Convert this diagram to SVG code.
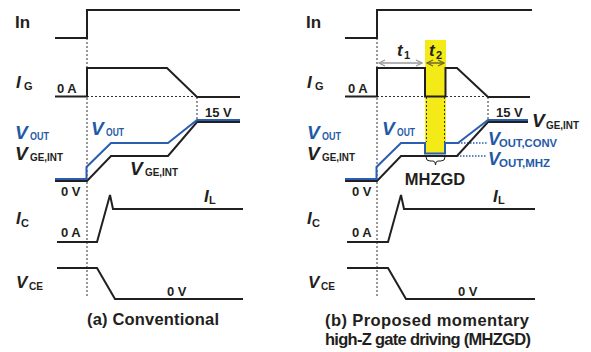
<svg xmlns="http://www.w3.org/2000/svg" width="591" height="352" viewBox="0 0 591 352">
<style>
text{font-family:"Liberation Sans",Arial,sans-serif;font-weight:bold;fill:#231f20}
.m{font-size:17px}
.v{font-size:19px;font-style:italic}
.it{font-size:17px;font-style:italic}
.s{font-size:11px}
.n{font-size:13px}
.cap{font-size:16.5px}
.b{fill:#1f5aa8}
.sig{fill:none;stroke:#231f20;stroke-width:2;stroke-linejoin:miter}
.blu{fill:none;stroke:#2a5eae;stroke-width:2}
.dash{fill:none;stroke:#333;stroke-width:1;stroke-dasharray:2,2}
.bdot{fill:none;stroke:#2a5eae;stroke-width:1.5;stroke-dasharray:1.5,1.5}
</style>
<defs>
<marker id="ag" markerWidth="8" markerHeight="8" refX="7" refY="4" orient="auto-start-reverse" markerUnits="userSpaceOnUse">
<path d="M1,1 L7,4 L1,7" fill="none" stroke="#9a9a9a" stroke-width="1.3"/>
</marker>
<marker id="ao" markerWidth="8" markerHeight="8" refX="7" refY="4" orient="auto-start-reverse" markerUnits="userSpaceOnUse">
<path d="M1,1 L7,4 L1,7" fill="none" stroke="#6f6a2a" stroke-width="1.3"/>
</marker>
</defs>

<rect id="mhz-band" x="425" y="40" width="21" height="114" fill="#f3ea17"/>

<g id="connectors">
<path class="dash" d="M87,38 V298"/>
<path class="dash" d="M87,96.5 H197"/>
<path class="dash" d="M197,97 V120"/>
<path class="dash" d="M377,38 V298"/>
<path class="dash" d="M377,96.5 H425 M446,96.5 H488"/>
<path class="dash" d="M488,97 V120"/>
<path class="dash" d="M426.5,97 V142 M444.5,97 V142"/>
<path class="bdot" d="M458,143 H487"/>
<path class="bdot" d="M457,156 H487"/>
<path d="M379,63 H422" stroke="#9a9a9a" stroke-width="1.5" fill="none" marker-start="url(#ag)" marker-end="url(#ag)"/>
<path d="M427,63 H444" stroke="#6f6a2a" stroke-width="1.5" fill="none" marker-start="url(#ao)" marker-end="url(#ao)"/>
<path d="M426,157 Q426,161 430,161 L433,161 Q435.5,161 435.5,165 Q435.5,161 438,161 L441,161 Q445,161 445,157" fill="none" stroke="#231f20" stroke-width="1"/>
</g>

<g id="panel-a">
<g id="a-in">
<text class="m" x="15" y="28">In</text>
<path class="sig" d="M55,38 H87 V10 H240"/>
</g>
<g id="a-ig">
<text class="it" x="16" y="88">I</text><text class="s" x="24" y="90">G</text>
<text class="n" x="57" y="93">0 A</text>
<path class="sig" d="M55,96.5 H87 V68 H167 L197,97 H240"/>
</g>
<g id="a-vge">
<text class="v b" x="15" y="139">V</text><text class="s b" x="30" y="140" textLength="19" lengthAdjust="spacingAndGlyphs">OUT</text>
<text class="v" x="15" y="160">V</text><text class="s" x="30" y="161" textLength="33" lengthAdjust="spacingAndGlyphs">GE,INT</text>
<text class="v b" x="91" y="135">V</text><text class="s b" x="106" y="136" textLength="18" lengthAdjust="spacingAndGlyphs">OUT</text>
<text class="v" x="130" y="175">V</text><text class="s" x="145" y="176" textLength="33" lengthAdjust="spacingAndGlyphs">GE,INT</text>
<text class="n" x="205" y="117">15 V</text>
<text class="n" x="61" y="196">0 V</text>
<path class="sig" d="M55,181 H87 L111,156 H168 L197,122 H240"/>
<path class="blu" d="M55,179 H86.5 V167 L111,143 H168 L197,120 H240"/>
</g>
<g id="a-ic">
<text class="it" x="16" y="224">I</text><text class="s" x="21" y="227">C</text>
<text class="n" x="61" y="237">0 A</text>
<text class="it" x="204" y="202">I</text><text class="s" x="209" y="204">L</text>
<path class="sig" d="M57,242 H97 L110,195 L113,209 H243"/>
</g>
<g id="a-vce">
<text class="it" x="16" y="288">V</text><text class="s" x="29" y="290" textLength="14" lengthAdjust="spacingAndGlyphs">CE</text>
<text class="n" x="167" y="296">0 V</text>
<path class="sig" d="M57,268 H97 L115,299 H243"/>
</g>
<text class="cap" x="87" y="325" textLength="132" lengthAdjust="spacing">(a) Conventional</text>
</g>

<g id="panel-b">
<g id="b-in">
<text class="m" x="306" y="28">In</text>
<path class="sig" d="M345,38 H377 V10 H532"/>
</g>
<g id="b-ig">
<text class="it" x="307" y="88">I</text><text class="s" x="315" y="90">G</text>
<text class="n" x="348" y="93">0 A</text>
<text class="it" x="397" y="56">t</text><text class="s" x="404" y="59">1</text>
<text class="it" x="429" y="56">t</text><text class="s" x="436" y="59">2</text>
<path class="sig" d="M345,96.5 H377 V68 H425 V96.5 H445.5 V68 H457 L488,97 H530"/>
</g>
<g id="b-vge">
<text class="v b" x="307" y="139">V</text><text class="s b" x="322" y="140" textLength="19" lengthAdjust="spacingAndGlyphs">OUT</text>
<text class="v" x="307" y="160">V</text><text class="s" x="322" y="161" textLength="33" lengthAdjust="spacingAndGlyphs">GE,INT</text>
<text class="v b" x="382" y="135">V</text><text class="s b" x="397" y="136" textLength="18" lengthAdjust="spacingAndGlyphs">OUT</text>
<text class="n" x="496" y="117">15 V</text>
<text class="v" x="532" y="127">V</text><text class="s" x="546" y="129" textLength="33" lengthAdjust="spacingAndGlyphs">GE,INT</text>
<text class="v b" x="488" y="145" style="font-size:18px">V</text><text class="s b" x="499" y="147" textLength="58" lengthAdjust="spacingAndGlyphs">OUT,CONV</text>
<text class="v b" x="488" y="165" style="font-size:18px">V</text><text class="s b" x="499" y="167" textLength="51" lengthAdjust="spacingAndGlyphs">OUT,MHZ</text>
<text class="n" x="352" y="196">0 V</text>
<text x="435" y="185" text-anchor="middle" style="font-size:16.5px">MHZGD</text>
<path class="sig" d="M345,181 H377 L401,156 H457 L488,122 H528"/>
<path class="blu" d="M345,179 H376.5 V167 L401,143 H425 V153.5 H445 V143 H458 L488,120 H528"/>
</g>
<g id="b-ic">
<text class="it" x="307" y="224">I</text><text class="s" x="312" y="227">C</text>
<text class="n" x="352" y="237">0 A</text>
<text class="it" x="493" y="202">I</text><text class="s" x="498" y="204">L</text>
<path class="sig" d="M347,242 H388 L401,195 L404,209 H535"/>
</g>
<g id="b-vce">
<text class="it" x="308" y="288">V</text><text class="s" x="321" y="290" textLength="14" lengthAdjust="spacingAndGlyphs">CE</text>
<text class="n" x="458" y="296">0 V</text>
<path class="sig" d="M347,268 H388 L406,299 H535"/>
</g>
<text class="cap" x="325" y="326" textLength="204" lengthAdjust="spacing">(b) Proposed momentary</text>
<text class="cap" x="325" y="345" textLength="206" lengthAdjust="spacing">high-Z gate driving (MHZGD)</text>
</g>
</svg>
